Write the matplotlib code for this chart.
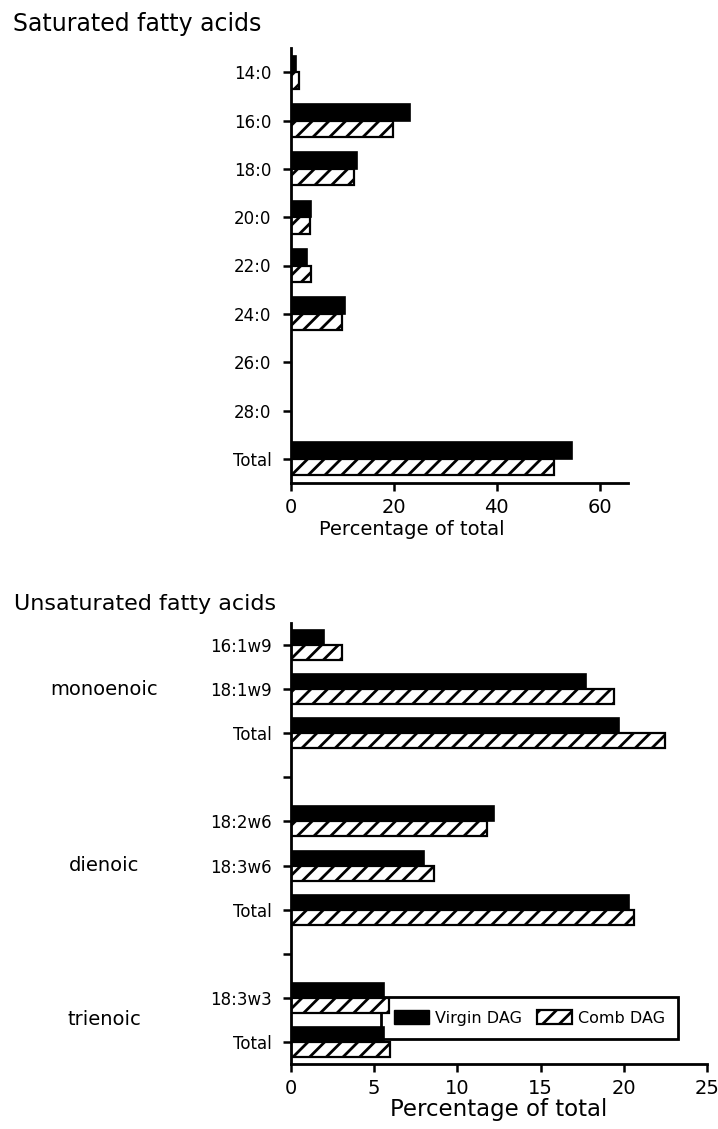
import numpy as np
import matplotlib
matplotlib.use("Agg")
import matplotlib.pyplot as plt
from matplotlib.patches import Patch
from matplotlib.transforms import blended_transform_factory

plt.rcParams['font.family'] = ['DejaVu Sans']
plt.rcParams['hatch.linewidth'] = 2.0

# ---------------- data ----------------
sat_labels = ['14:0', '16:0', '18:0', '20:0', '22:0', '24:0', '26:0', '28:0', 'Total']
sat_virgin = [1.0, 23.2, 12.8, 3.9, 3.2, 10.5, 0.0, 0.0, 54.6]
sat_comb = [1.6, 19.9, 12.3, 3.6, 3.9, 10.0, 0.0, 0.0, 51.1]

unsat_groups = ['monoenoic', 'dienoic', 'trienoic']
unsat_labels = [['16:1w9', '18:1w9', 'Total'],
                ['18:2w6', '18:3w6', 'Total'],
                ['18:3w3', 'Total']]
unsat_virgin = [[2.0, 17.7, 19.7],
                [12.2, 8.0, 20.3],
                [5.6, 5.6]]
unsat_comb = [[3.05, 19.4, 22.5],
              [11.8, 8.6, 20.6],
              [5.9, 5.95]]

series_names = ['Virgin DAG', 'Comb DAG']
sat_ticks = [0, 20, 40, 60]
unsat_ticks = [0, 5, 10, 15, 20, 25]

# ---------------- figure ----------------
W, H = 718, 1129
fig = plt.figure(figsize=(W / 100, H / 100), dpi=100)

def fx(px):
    return px / W

def fy(py):
    return 1 - py / H

bar_h = 0.34
off = 0.17
virgin_style = dict(color='black', edgecolor='black', linewidth=1.2, zorder=3)
comb_style = dict(color='white', edgecolor='black', linewidth=1.6, hatch='//', zorder=3)

def style_axes(ax, tick_fs, xl_fs, labelpad):
    for s in ['top', 'right']:
        ax.spines[s].set_visible(False)
    for s in ['left', 'bottom']:
        ax.spines[s].set_linewidth(2.0)
        ax.spines[s].set_color('black')
        ax.spines[s].set_zorder(4)
    ax.tick_params(axis='y', direction='out', length=6, width=1.8, pad=8, labelsize=12)
    ax.tick_params(axis='x', direction='out', length=6, width=1.8, pad=5, labelsize=tick_fs)
    ax.set_xlabel('Percentage of total', fontsize=xl_fs, labelpad=labelpad)

# ---- top: saturated ----
ax1 = fig.add_axes([fx(291), fy(483), fx(628) - fx(291), fy(48) - fy(483)])
pos1 = np.arange(len(sat_labels))
ax1.barh(pos1 - off, sat_virgin, height=bar_h, **virgin_style)
ax1.barh(pos1 + off, sat_comb, height=bar_h, **comb_style)
ax1.set_ylim(len(sat_labels) - 0.5, -0.5)
ax1.set_xlim(0, 65.5)
ax1.set_yticks(pos1)
ax1.set_yticklabels(sat_labels)
ax1.set_xticks(sat_ticks)
style_axes(ax1, 14, 14, 1)
ax1.xaxis.set_label_coords((412 - 291) / (628 - 291), -0.085)
fig.text(fx(13), fy(24), 'Saturated fatty acids', fontsize=17, ha='left', va='center')

# ---- bottom: unsaturated ----
ax2 = fig.add_axes([fx(291), fy(1064), fx(707) - fx(291), fy(623) - fy(1064)])
positions = []
group_centers = []
p = 0
for g, labs in enumerate(unsat_labels):
    gp = list(range(p, p + len(labs)))
    positions.append(gp)
    group_centers.append(np.mean(gp))
    p += len(labs) + 1
all_ticks = list(range(p - 1))
lab_map = {}
for gp, labs in zip(positions, unsat_labels):
    for q, l in zip(gp, labs):
        lab_map[q] = l
for gp, v, c in zip(positions, unsat_virgin, unsat_comb):
    gp = np.array(gp)
    ax2.barh(gp - off, v, height=bar_h, **virgin_style)
    ax2.barh(gp + off, c, height=bar_h, **comb_style)
ax2.set_ylim(p - 1.5, -0.5)
ax2.set_xlim(0, 25)
ax2.set_yticks(all_ticks)
ax2.set_yticklabels([lab_map.get(t, '') for t in all_ticks])
ax2.set_xticks(unsat_ticks)
style_axes(ax2, 14, 16.5, 0)
fig.text(fx(14), fy(604), 'Unsaturated fatty acids', fontsize=16, ha='left', va='center')

tr = blended_transform_factory(fig.transFigure, ax2.transData)
for name, cy in zip(unsat_groups, group_centers):
    ax2.text(fx(104), cy, name, transform=tr, ha='center', va='center', fontsize=14)

handles = [Patch(facecolor='black', edgecolor='black', label=series_names[0]),
           Patch(facecolor='white', edgecolor='black', hatch='//', linewidth=1.6, label=series_names[1])]
leg = ax2.legend(handles=handles, ncol=2, loc='center',
                 bbox_to_anchor=(fx(381), fy(1040), fx(678) - fx(381), fy(996) - fy(1040)),
                 bbox_transform=fig.transFigure, mode='expand', fontsize=11.5,
                 frameon=True, fancybox=False, framealpha=1, edgecolor='black',
                 borderpad=0.8, handlelength=2.2, handleheight=1.0, columnspacing=1.5,
                 handletextpad=0.4, borderaxespad=0)
leg.get_frame().set_linewidth(2.0)
leg.set_zorder(2)

fig.savefig('out.png', dpi=100)
